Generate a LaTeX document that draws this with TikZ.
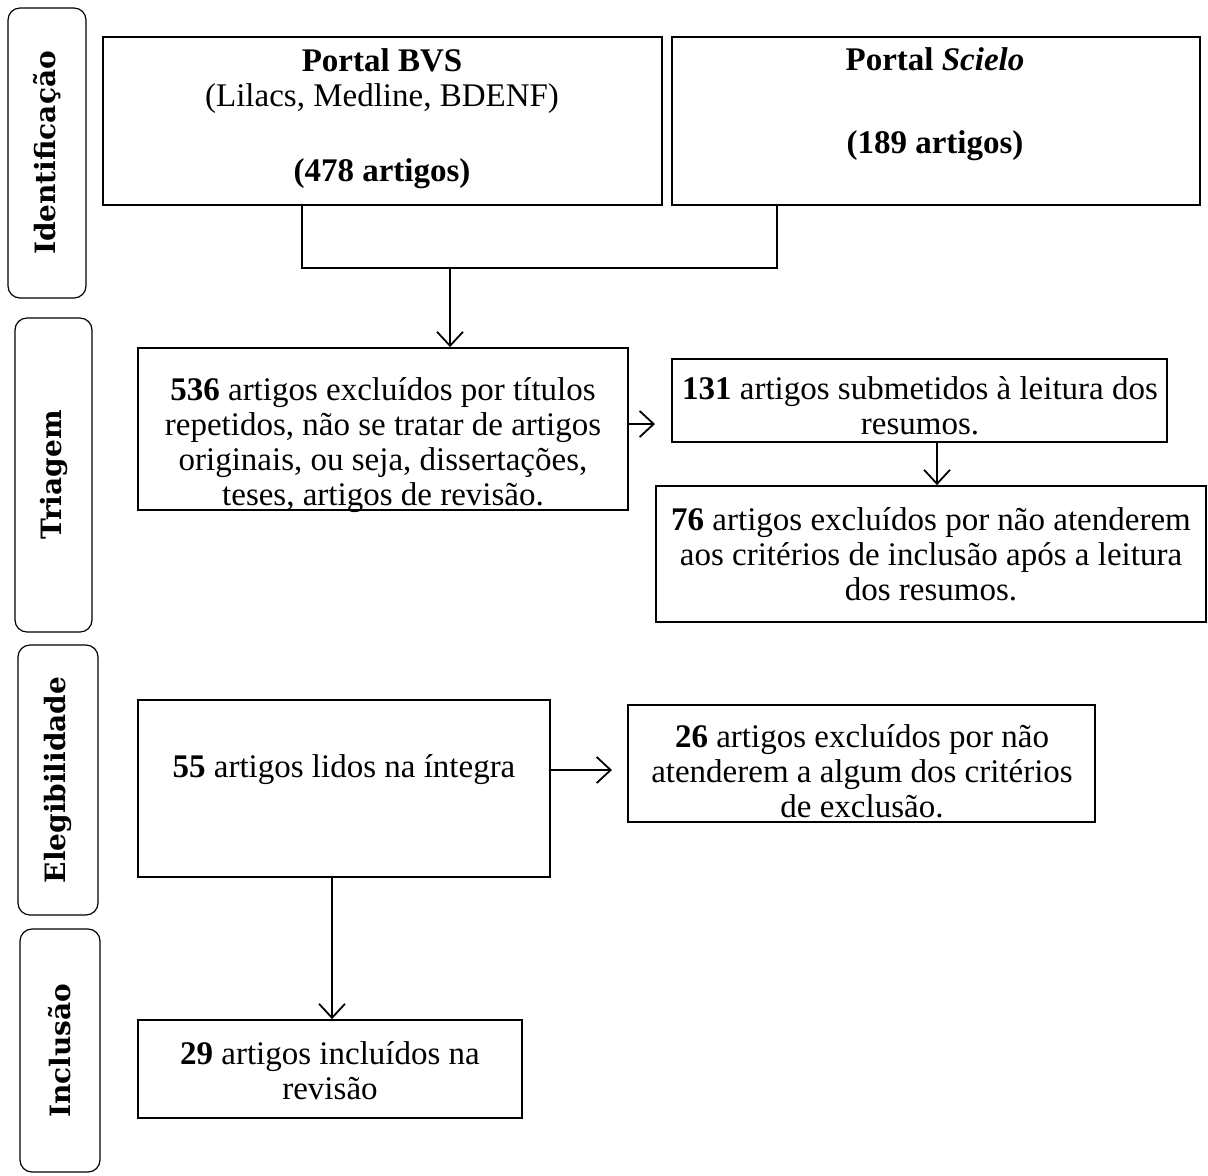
\documentclass[tikz,border=0pt]{standalone}
\usepackage{fontspec}
\setmainfont{Liberation Serif}
\newfontfamily\sidefont{DejaVu Serif}
\usetikzlibrary{arrows.meta,fit}
\begin{document}
\begin{tikzpicture}[x=0.5pt,y=-0.5pt,
  box/.style={draw, line width=0.9pt, inner sep=0pt},
  side/.style={draw, rounded corners=6pt, line width=0.6pt, inner sep=0pt},
  txt/.style={align=center, font=\fontsize{16.5}{17.5}\selectfont, inner sep=0pt},
  sidetxt/.style={rotate=90, inner sep=0pt, font=\sidefont\bfseries\fontsize{14}{16}\selectfont},
  arr/.style={-{Straight Barb[length=7pt,width=13pt,line width=0.9pt]}, line width=0.9pt},
  conn/.style={line width=0.9pt}]
\useasboundingbox (0,0) rectangle (1208,1175);

% side stage boxes
\node[side, fit={(8,8) (86,298)}] (sid) {};
\node[sidetxt] (sidt) at (sid.center) {Identificação};
\node[side, fit={(15,318) (92,632)}] (str) {};
\node[sidetxt] (strt) at (str.center) {Triagem};
\node[side, fit={(18,645) (98,915)}] (sel) {};
\node[sidetxt] (selt) at (sel.center) {Elegibilidade};
\node[side, fit={(20,929) (100,1172)}] (sin) {};
\node[sidetxt] (sint) at (sin.center) {Inclusão};

% main boxes
\node[box, fit={(103,37) (662,205)}] (bvs) {};
\node[txt] (bvst) at (382,119) {\textbf{Portal BVS}\\(Lilacs, Medline, BDENF)\\[20pt]\textbf{(478 artigos)}};
\node[box, fit={(672,37) (1200,205)}] (sci) {};
\node[txt] (scit) at (935,104) {\textbf{Portal \textit{Scielo}}\\[24pt]\textbf{(189 artigos)}};

\node[box, fit={(138,348) (628,510)}] (ex536) {};
\node[txt] (ex536t) at (383,445) {\textbf{536} artigos excluídos por títulos\\repetidos, não se tratar de artigos\\originais, ou seja, dissertações,\\teses, artigos de revisão.};

\node[box, fit={(672,359) (1167,442)}] (s131) {};
\node[txt] (s131t) at (920,406) {\textbf{131} artigos submetidos à leitura dos\\resumos.};

\node[box, fit={(656,486) (1206,622)}] (ex76) {};
\node[txt] (ex76t) at (931,554) {\textbf{76} artigos excluídos por não atenderem\\aos critérios de inclusão após a leitura\\dos resumos.};

\node[box, fit={(138,700) (550,877)}] (ex55) {};
\node[txt] (ex55t) at (344,770) {\textbf{55} artigos lidos na íntegra};

\node[box, fit={(628,705) (1095,822)}] (ex26) {};
\node[txt] (ex26t) at (862,771) {\textbf{26} artigos excluídos por não\\atenderem a algum dos critérios\\de exclusão.};

\node[box, fit={(138,1020) (522,1118)}] (ex29) {};
\node[txt] (ex29t) at (330,1071) {\textbf{29} artigos incluídos na\\revisão};

% connectors
\coordinate (jl) at (302,268);
\coordinate (jr) at (777,268);
\coordinate (jm) at (450,268);
\draw[conn] (jl |- bvs.south) -- (jl) -- (jr) -- (jr |- sci.south);
\draw[arr] (jm) -- (jm |- ex536.north);

\coordinate (a1) at (655,424);
\draw[arr] (a1 -| ex536.east) -- (a1);

\coordinate (c2) at (937,442);
\draw[arr] (c2 |- s131.south) -- (c2 |- ex76.north);

\coordinate (a3) at (612,770);
\draw[arr] (a3 -| ex55.east) -- (a3);

\coordinate (c4) at (332,900);
\draw[arr] (c4 |- ex55.south) -- (c4 |- ex29.north);
\end{tikzpicture}
\end{document}
